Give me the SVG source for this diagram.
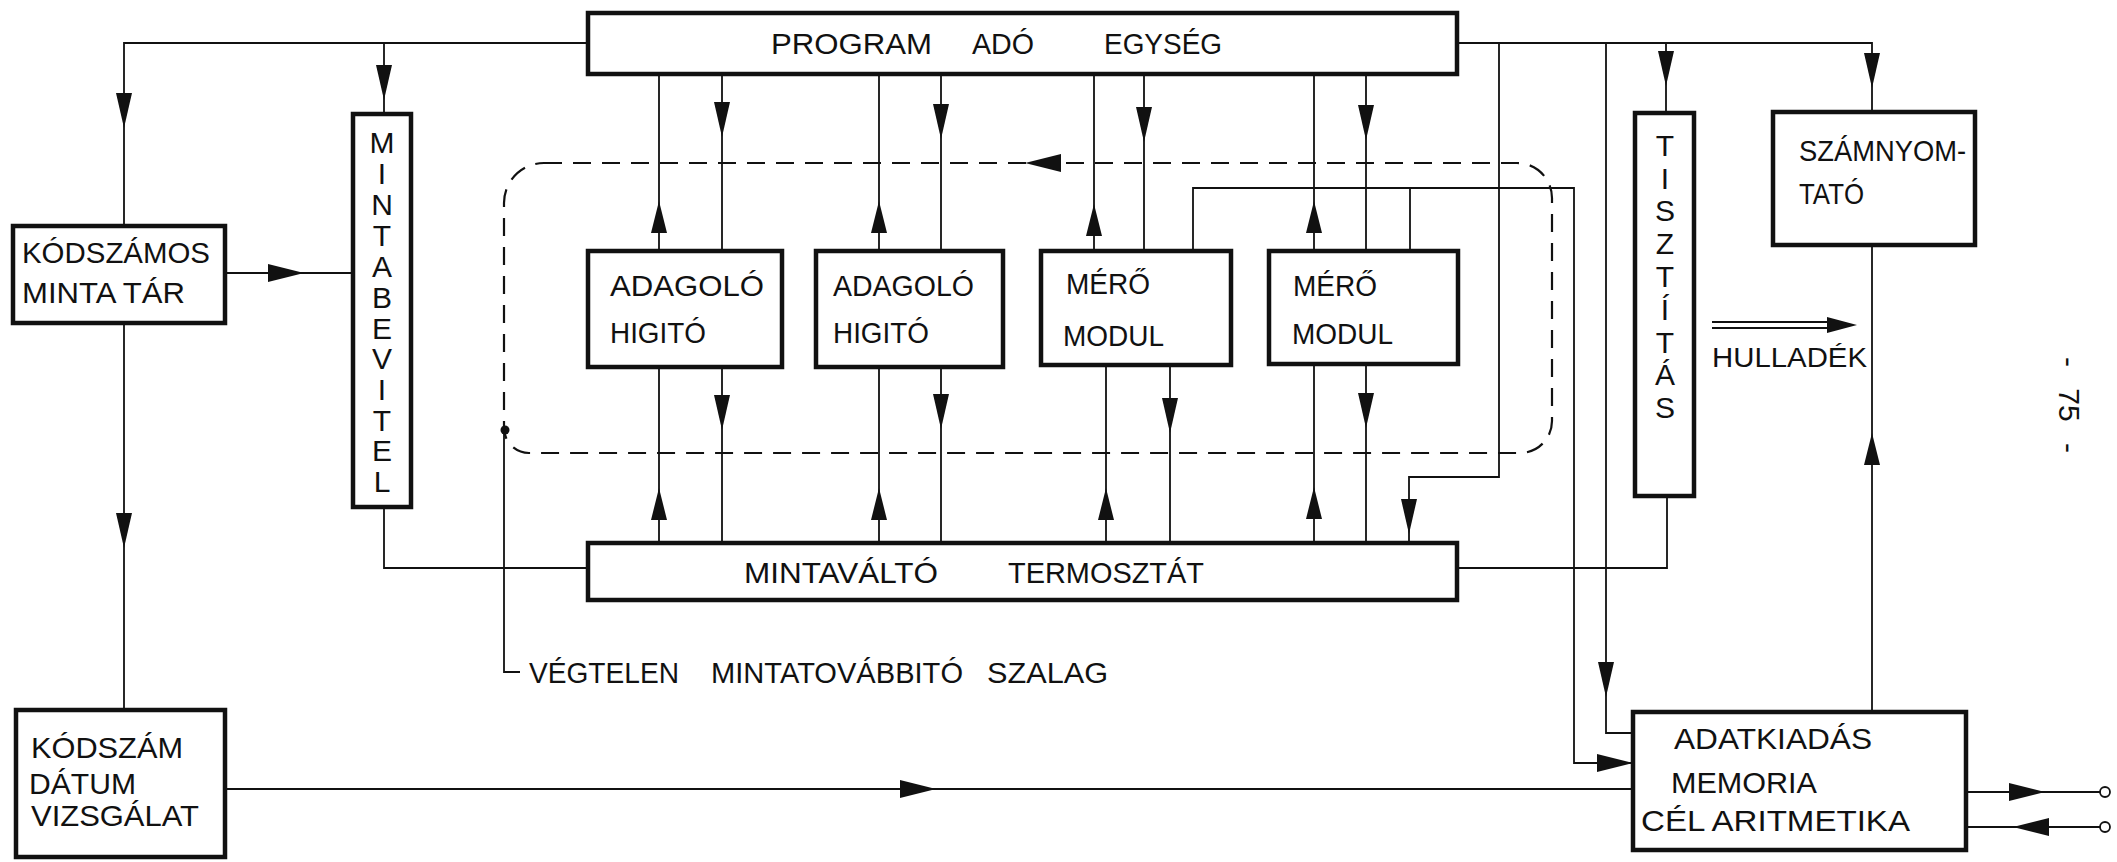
<svg xmlns="http://www.w3.org/2000/svg" xmlns:xlink="http://www.w3.org/1999/xlink" width="2117" height="862" viewBox="0 0 2117 862">
<style>
.box{fill:#fff;stroke:#111;stroke-width:4.5}
.ln{fill:none;stroke:#111;stroke-width:1.8}
.dash{fill:none;stroke:#111;stroke-width:2.2;stroke-dasharray:18 11}
.t{font-family:"Liberation Sans",Arial,sans-serif;font-size:30px;fill:#111}
.ah{fill:#111}
</style>
<defs>
<path id="ad" class="ah" d="M0,0 L-8,-35 L8,-35 Z"/>
<path id="au" class="ah" d="M0,0 L-8,32 L8,32 Z"/>
<path id="ar" class="ah" d="M0,0 L-36,-9 L-36,9 Z"/>
<path id="al" class="ah" d="M0,0 L36,-9 L36,9 Z"/>
<path id="arS" class="ah" d="M0,0 L-30,-8 L-30,8 Z"/>
</defs>
<rect width="2117" height="862" fill="#fff"/>

<g id="connectors">
<path class="dash" d="M544,163 H1517 A35,35 0 0 1 1552,198 V421 A32,32 0 0 1 1520,453 H529 A25,25 0 0 1 504,428 V203 A40,40 0 0 1 544,163 Z"/>
<circle cx="505" cy="430" r="4.5" fill="#111"/>
<path class="ln" d="M504,430 V672 H520"/>
<path class="ln" d="M588,43 H124 V226"/>
<path class="ln" d="M384,43 V114"/>
<path class="ln" d="M124,323 V710"/>
<path class="ln" d="M225,273 H353"/>
<path class="ln" d="M384,507 V568 H588"/>
<path class="ln" d="M225,789 H1633"/>
<path class="ln" d="M659,75 V251 M722,75 V251 M879,75 V251 M941,75 V251 M1094,75 V251 M1144,75 V251 M1314,75 V251 M1366,75 V251"/>
<path class="ln" d="M659,367 V543 M722,367 V543 M879,367 V543 M941,367 V543 M1106,365 V543 M1170,365 V543 M1314,364 V543 M1366,364 V543"/>
<path class="ln" d="M1193,251 V188 H1574 V763 H1633 M1410,251 V188"/>
<path class="ln" d="M1457,43 H1872 V112 M1499,43 V477 H1409 V543 M1606,43 V733 H1633 M1666,43 V113"/>
<path class="ln" d="M1457,568 H1667 V496"/>
<path class="ln" d="M1872,245 V712"/>
<path class="ln" d="M1966,792 H2100 M1966,827 H2100"/>
<circle cx="2105" cy="792" r="5" fill="#fff" stroke="#111" stroke-width="1.8"/>
<circle cx="2105" cy="827" r="5" fill="#fff" stroke="#111" stroke-width="1.8"/>
<path class="ln" d="M1712,322 H1835 M1712,328 H1835"/>
<use xlink:href="#arS" x="1857" y="325"/>
<use xlink:href="#ad" x="124" y="128"/>
<use xlink:href="#ad" x="384" y="100"/>
<use xlink:href="#ad" x="722" y="137"/>
<use xlink:href="#ad" x="941" y="139"/>
<use xlink:href="#ad" x="1144" y="142"/>
<use xlink:href="#ad" x="1366" y="140"/>
<use xlink:href="#ad" x="1666" y="86"/>
<use xlink:href="#ad" x="1872" y="88"/>
<use xlink:href="#ad" x="124" y="548"/>
<use xlink:href="#ad" x="722" y="430"/>
<use xlink:href="#ad" x="941" y="429"/>
<use xlink:href="#ad" x="1170" y="433"/>
<use xlink:href="#ad" x="1366" y="428"/>
<use xlink:href="#ad" x="1409" y="534"/>
<use xlink:href="#ad" x="1606" y="697"/>
<use xlink:href="#au" x="659" y="201"/>
<use xlink:href="#au" x="879" y="201"/>
<use xlink:href="#au" x="1094" y="204"/>
<use xlink:href="#au" x="1314" y="201"/>
<use xlink:href="#au" x="659" y="488"/>
<use xlink:href="#au" x="879" y="488"/>
<use xlink:href="#au" x="1106" y="488"/>
<use xlink:href="#au" x="1314" y="487"/>
<use xlink:href="#au" x="1872" y="433"/>
<use xlink:href="#ar" x="304" y="273"/>
<use xlink:href="#ar" x="936" y="789"/>
<use xlink:href="#ar" x="1633" y="763"/>
<use xlink:href="#ar" x="2045" y="792"/>
<use xlink:href="#al" x="1025" y="163"/>
<use xlink:href="#al" x="2013" y="827"/>
</g>

<g id="program">
<rect class="box" x="588" y="13" width="869" height="61"/>
<text class="t" x="771" y="54" textLength="161" lengthAdjust="spacingAndGlyphs">PROGRAM</text>
<text class="t" x="972" y="54" textLength="62" lengthAdjust="spacingAndGlyphs">ADÓ</text>
<text class="t" x="1104" y="54" textLength="118" lengthAdjust="spacingAndGlyphs">EGYSÉG</text>
</g>
<g id="kodszamos">
<rect class="box" x="13" y="226" width="212" height="97"/>
<text class="t" x="22" y="263" textLength="188" lengthAdjust="spacingAndGlyphs">KÓDSZÁMOS</text>
<text class="t" x="22" y="303" textLength="163" lengthAdjust="spacingAndGlyphs">MINTA TÁR</text>
</g>
<g id="mintabevitel">
<rect class="box" x="353" y="114" width="58" height="393"/>
<text class="t" text-anchor="middle" x="382 382 382 382 382 382 382 382 382 382 382 382" y="153 184 215 246 277 308 339 369 400 431 461 492">MINTABEVITEL</text>
</g>
<g id="adagolo1">
<rect class="box" x="588" y="251" width="194" height="116"/>
<text class="t" x="610" y="296" textLength="154" lengthAdjust="spacingAndGlyphs">ADAGOLÓ</text>
<text class="t" x="610" y="343" textLength="96" lengthAdjust="spacingAndGlyphs">HIGITÓ</text>
</g>
<g id="adagolo2">
<rect class="box" x="816" y="251" width="187" height="116"/>
<text class="t" x="833" y="296" textLength="141" lengthAdjust="spacingAndGlyphs">ADAGOLÓ</text>
<text class="t" x="833" y="343" textLength="96" lengthAdjust="spacingAndGlyphs">HIGITÓ</text>
</g>
<g id="mero1">
<rect class="box" x="1041" y="251" width="190" height="114"/>
<text class="t" x="1066" y="294" textLength="84" lengthAdjust="spacingAndGlyphs">MÉRŐ</text>
<text class="t" x="1063" y="346" textLength="101" lengthAdjust="spacingAndGlyphs">MODUL</text>
</g>
<g id="mero2">
<rect class="box" x="1269" y="251" width="189" height="113"/>
<text class="t" x="1293" y="296" textLength="84" lengthAdjust="spacingAndGlyphs">MÉRŐ</text>
<text class="t" x="1292" y="344" textLength="101" lengthAdjust="spacingAndGlyphs">MODUL</text>
</g>
<g id="tisztitas">
<rect class="box" x="1635" y="113" width="59" height="383"/>
<text class="t" text-anchor="middle" x="1665 1665 1665 1665 1665 1665 1665 1665 1665" y="156 189 221 254 287 320 353 385 418">TISZTÍTÁS</text>
</g>
<g id="szamnyomtato">
<rect class="box" x="1773" y="112" width="202" height="133"/>
<text class="t" x="1799" y="161" textLength="167" lengthAdjust="spacingAndGlyphs">SZÁMNYOM-</text>
<text class="t" x="1799" y="204" textLength="65" lengthAdjust="spacingAndGlyphs">TATÓ</text>
</g>
<g id="hulladek">
<text class="t" style="font-size:28px" x="1712" y="367" textLength="155" lengthAdjust="spacingAndGlyphs">HULLADÉK</text>
</g>
<g id="mintavalto">
<rect class="box" x="588" y="543" width="869" height="57"/>
<text class="t" x="744" y="583" textLength="194" lengthAdjust="spacingAndGlyphs">MINTAVÁLTÓ</text>
<text class="t" x="1008" y="583" textLength="196" lengthAdjust="spacingAndGlyphs">TERMOSZTÁT</text>
</g>
<g id="szalag">
<text class="t" x="529" y="683" textLength="150" lengthAdjust="spacingAndGlyphs">VÉGTELEN</text>
<text class="t" x="711" y="683" textLength="252" lengthAdjust="spacingAndGlyphs">MINTATOVÁBBITÓ</text>
<text class="t" x="987" y="683" textLength="121" lengthAdjust="spacingAndGlyphs">SZALAG</text>
</g>
<g id="kodszam">
<rect class="box" x="16" y="710" width="209" height="147"/>
<text class="t" x="31" y="758" textLength="152" lengthAdjust="spacingAndGlyphs">KÓDSZÁM</text>
<text class="t" x="29" y="794" textLength="107" lengthAdjust="spacingAndGlyphs">DÁTUM</text>
<text class="t" x="31" y="826" textLength="168" lengthAdjust="spacingAndGlyphs">VIZSGÁLAT</text>
</g>
<g id="adatkiadas">
<rect class="box" x="1633" y="712" width="333" height="138"/>
<text class="t" x="1674" y="749" textLength="198" lengthAdjust="spacingAndGlyphs">ADATKIADÁS</text>
<text class="t" x="1671" y="793" textLength="146" lengthAdjust="spacingAndGlyphs">MEMORIA</text>
<text class="t" x="1641" y="831" textLength="269" lengthAdjust="spacingAndGlyphs">CÉL ARITMETIKA</text>
</g>
<g id="pagenum">
<text class="t" text-anchor="middle" word-spacing="13" transform="translate(2059,405) rotate(90)">- 75 -</text>
</g>
</svg>
